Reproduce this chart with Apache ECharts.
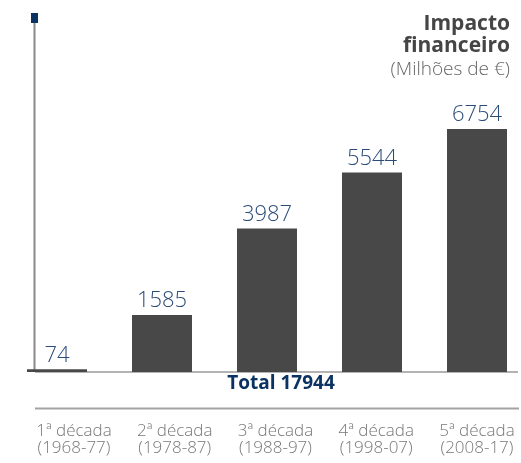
<!DOCTYPE html>
<html>
<head>
<meta charset="utf-8">
<script src="https://cdn.jsdelivr.net/npm/echarts@6/dist/echarts.min.js"></script>
<style>
    html, body { margin: 0; padding: 0; background: #fff; }
    #chart { width: 521px; height: 463px; }
</style>
</head>
<body>
<div id="chart"></div>
<script>
// dados
const decadas = ['1ª década', '2ª década', '3ª década', '4ª década', '5ª década'];
const periodos = ['(1968-77)', '(1978-87)', '(1988-97)', '(1998-07)', '(2008-17)'];
const impacto = [74, 1585, 3987, 5544, 6754];

const total = impacto.reduce((a, b) => a + b, 0);
const fonte = '"Open Sans", "Noto Sans", sans-serif';
const azul = '#0b3361';

function texto(t, x, y, size, weight, color, align) {
    return {
        type: 'text', x: x, y: y,
        style: {
            text: t, fill: color, fontSize: size, fontWeight: weight,
            fontFamily: fonte, align: align, verticalAlign: 'middle'
        }
    };
}

const chart = echarts.init(document.getElementById('chart'));
chart.setOption({
    animation: false,
    textStyle: { fontFamily: fonte },
    grid: [
        { left: 4.5, width: 525, top: 129, bottom: 91, containLabel: false, outerBoundsMode: 'none' },
        { left: 23.6, width: 503.75, top: 400, height: 10, containLabel: false, outerBoundsMode: 'none' }
    ],
    xAxis: [{
        type: 'category',
        gridIndex: 0,
        data: decadas,
        axisLine: { show: false },
        axisTick: { show: false },
        axisLabel: { show: false }
    }, {
        type: 'category',
        gridIndex: 1,
        data: decadas.map((d, i) => d + '\n' + periodos[i]),
        axisLine: { show: false },
        axisTick: { show: false },
        axisLabel: { margin: 13, color: '#777', fontSize: 17, lineHeight: 17, fontWeight: 'lighter', fontFamily: fonte }
    }],
    yAxis: [{
        type: 'value',
        gridIndex: 0,
        min: 0,
        max: 'dataMax',
        show: false
    }, {
        type: 'value',
        gridIndex: 1,
        show: false
    }],
    series: [{
        type: 'bar',
        xAxisIndex: 0,
        yAxisIndex: 0,
        data: impacto,
        barWidth: 60,
        itemStyle: { color: '#484848' },
        label: {
            show: true,
            position: 'top',
            distance: 3,
            color: '#2b4c78',
            fontSize: 22,
            fontWeight: 'lighter',
            fontFamily: fonte
        }
    }],
    graphic: [
        { type: 'line', shape: { x1: 34.5, y1: 23, x2: 34.5, y2: 372 }, style: { stroke: '#8a8a8a', lineWidth: 2 } },
        { type: 'rect', shape: { x: 31, y: 13, width: 7, height: 10 }, style: { fill: azul } },
        { type: 'line', shape: { x1: 35, y1: 372, x2: 518, y2: 372 }, style: { stroke: '#9a9a9a', lineWidth: 1.5 } },
        { type: 'line', shape: { x1: 35, y1: 408.5, x2: 519, y2: 408.5 }, style: { stroke: '#a3a3a3', lineWidth: 2 } },
        texto('Total ' + total, 281, 384, 19, 'bold', azul, 'center'),
        texto('Impacto', 510, 24, 21, 'bold', '#454545', 'right'),
        texto('financeiro', 510, 46, 21, 'bold', '#454545', 'right'),
        texto('(Milhões de €)', 510, 70, 19, 'lighter', '#666', 'right')
    ]
});
</script>
</body>
</html>
